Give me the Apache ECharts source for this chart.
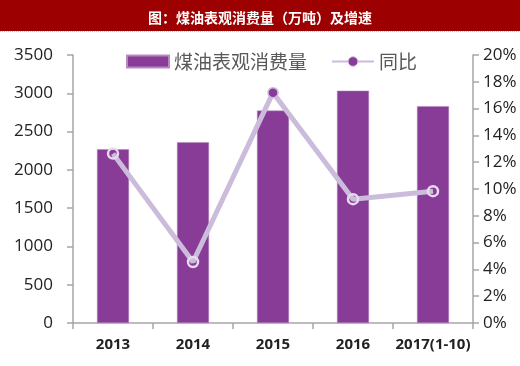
<!DOCTYPE html>
<html><head><meta charset="utf-8">
<script src="https://cdn.jsdelivr.net/npm/echarts@6/dist/echarts.min.js"></script>
<style>html,body{margin:0;padding:0;background:#fff}#c{width:520px;height:366px}</style>
</head><body><div id="c"></div>
<script>
var categories = ['2013', '2014', '2015', '2016', '2017(1-10)'];
var consumption = [2270, 2361, 2774, 3034, 2832];
var yoy = [0.1264, 0.0455, 0.1719, 0.0924, 0.0984];
var leftTicks = { min: 0, max: 3500, interval: 500 };
var rightTicks = { min: 0, max: 0.2, interval: 0.02 };
var titleText = '图：煤油表观消费量（万吨）及增速';
var barName = '煤油表观消费量';
var lineName = '同比';

var BAR = '#893c97', LINE = '#ccbcdb', AX = '#a6a6a6';
var chart = echarts.init(document.getElementById('c'), null, { renderer: 'canvas' });
var lineData = yoy.map(function (v, i) {
  if (i === 2) return { value: v, itemStyle: { color: BAR, borderColor: LINE, borderWidth: 1.5 } };
  return v;
});
chart.setOption({
  animation: false,
  textStyle: { fontFamily: '"Open Sans", "Noto Sans CJK SC", sans-serif' },
  graphic: [
    { type: 'rect', shape: { x: 0, y: 0, width: 520, height: 31 }, style: { fill: '#9c0000' }, z: 0 },
    { type: 'line', shape: { x1: 0, y1: 31.5, x2: 520, y2: 31.5 }, style: { stroke: '#b8c4d8', lineWidth: 1, lineDash: [1, 1] } }
  ],
  title: {
    text: titleText, left: 'center', top: 6,
    textStyle: { color: '#fff', fontSize: 14, fontWeight: 'bold', fontFamily: '"Noto Sans CJK SC", sans-serif' }
  },
  legend: {
    left: 126, top: 52, padding: 0, itemWidth: 42, itemHeight: 12, itemGap: 24,
    textStyle: { fontSize: 19, color: '#595959', fontFamily: '"Noto Sans CJK SC", sans-serif' },
    data: [
      { name: barName, icon: 'rect' },
      { name: lineName, itemStyle: { color: BAR, borderColor: LINE, borderWidth: 1 } }
    ]
  },
  grid: { left: 73, right: 47, top: 55, bottom: 43 },
  xAxis: {
    type: 'category', data: categories, boundaryGap: true,
    axisLine: { lineStyle: { color: AX, width: 1.5 } },
    axisTick: { show: true, length: 6, lineStyle: { color: AX, width: 1.5 } },
    axisLabel: { color: '#222', fontSize: 15, fontWeight: 'bold', margin: 14, interval: 0 }
  },
  yAxis: [
    {
      type: 'value', min: leftTicks.min, max: leftTicks.max, interval: leftTicks.interval,
      splitLine: { show: false },
      axisLine: { show: true, lineStyle: { color: AX, width: 1.5 } },
      axisTick: { show: true, length: 6, lineStyle: { color: AX, width: 1.5 } },
      axisLabel: { color: '#222', fontSize: 17, margin: 20, formatter: function (v) { return String(v); } }
    },
    {
      type: 'value', min: rightTicks.min, max: rightTicks.max, interval: rightTicks.interval,
      splitLine: { show: false },
      axisLine: { show: true, lineStyle: { color: AX, width: 1.5 } },
      axisTick: { show: true, length: 6, lineStyle: { color: AX, width: 1.5 } },
      axisLabel: { color: '#222', fontSize: 17, margin: 10, formatter: function (v) { return Math.round(v * 100) + '%'; } }
    }
  ],
  series: [
    {
      name: barName, type: 'bar', data: consumption, barWidth: 32,
      itemStyle: { color: BAR, borderColor: '#b58ac0', borderWidth: 0.5 }
    },
    {
      name: lineName, type: 'line', yAxisIndex: 1, data: lineData,
      symbol: 'circle', symbolSize: 10,
      lineStyle: { color: LINE, width: 5 },
      itemStyle: { color: 'rgba(0,0,0,0)', borderColor: '#e6dcef', borderWidth: 2.5 },
      z: 3
    }
  ]
});
</script></body></html>
